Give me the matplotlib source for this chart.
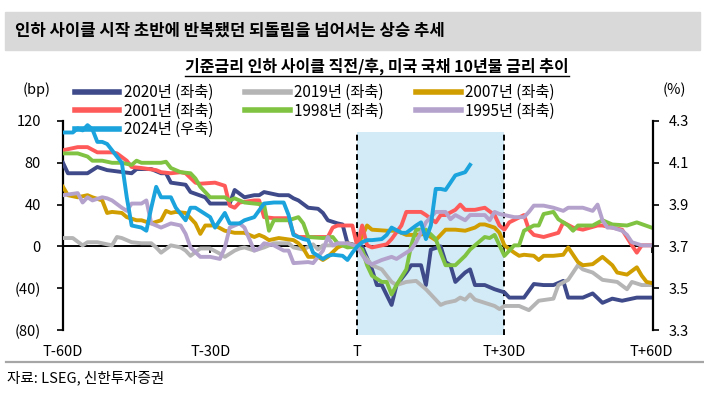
import matplotlib
matplotlib.use('Agg')
import matplotlib.pyplot as plt
from matplotlib.patches import Rectangle
from matplotlib.lines import Line2D
from matplotlib.ticker import FuncFormatter

plt.rcParams['font.family'] = ['Noto Sans CJK KR', 'DejaVu Sans']

# 기준금리 인하 시점(T) 대비 변화, bp (좌축)
days_2020 = [-60,-59,-55,-53,-51,-46,-45,-42,-40,-39,-38,-35,-34,-31,-30,-26,-25,-23,-21,-20,
             -19,-16,-14,-13,-12,-10,-8,-7,-6,-4,-3,-2,-1,0,1,3,4,5,7,8,10,11,13,14,15,17,18,19,20,
             22,23,24,26,28,30,31,34,36,38,40,42,43,46,48,50,52,54,57,60]
bp_2020 = [80,70,70,76,73,70,74,74,70,70,61,59,52,47,41,41,54,47,49,49,
           52,49,49,46,44,37,36,32,25,22,21,3,2,0,0,-22,-37,-37,-56,-37,-25,-18,-18,-37,-3,0,-15,-18,-34,
           -25,-22,-37,-37,-41,-44,-49,-49,-36,-37,-37,-33,-49,-49,-45,-54,-50,-52,-49,-49]

days_2019 = [-60,-58,-56,-55,-53,-52,-50,-49,-48,-46,-44,-42,-41,-40,-38,-36,-35,-34,-32,-30,
             -28,-27,-25,-24,-23,-21,-19,-17,-14,-13,-11,-9,-8,-7,-4,-1,0,1,3,5,7,8,10,12,14,16,17,
             18,20,21,22,23,24,26,28,29,30,33,35,37,40,41,43,45,46,48,50,53,55,56,58,60]
bp_2019 = [8,8,1,4,4,3,1,9,8,4,3,3,-1,-6,1,-1,-4,-9,-2,-2,
           -7,-10,-4,-2,-1,-4,-1,3,3,-1,-3,2,-3,1,1,1,0,-6,-18,-22,-34,-37,-34,-33,-41,-51,-56,
           -54,-52,-49,-51,-46,-51,-54,-57,-60,-57,-57,-61,-52,-50,-37,-32,-18,-22,-25,-32,-34,-41,-34,-37,-37]

days_2007 = [-60,-59,-57,-55,-54,-52,-51,-50,-48,-47,-45,-44,-42,-40,-39,-38,-37,-35,-33,-32,
             -31,-29,-27,-25,-23,-21,-20,-19,-18,-16,-13,-12,-11,-10,-8,-7,-6,-4,-2,0,2,3,6,8,10,
             12,14,15,16,17,18,20,22,24,25,26,28,29,30,32,33,34,36,37,38,40,42,43,45,46,48,50,52,53,
             55,57,58,59,60]
bp_2007 = [57,49,47,49,47,44,32,33,32,28,25,25,22,25,34,32,33,32,22,12,
           20,20,15,13,13,9,11,9,6,8,6,3,-2,-10,-10,-13,-10,-1,3,0,20,16,15,15,11,
           11,12,9,6,11,16,16,15,18,21,21,18,13,1,-6,-9,-8,-9,-13,-9,-9,-8,-1,-15,-18,-17,-10,-18,-25,
           -27,-20,-28,-34,-35]

days_2001 = [-60,-57,-55,-53,-50,-49,-47,-46,-44,-41,-40,-38,-36,-35,-33,-32,-29,-27,-26,-25,
             -24,-21,-20,-19,-17,-14,-13,-12,-8,-6,-5,-4,-1,0,1,2,3,5,6,7,9,10,13,14,16,17,18,20,21,
             22,24,26,28,29,30,31,34,35,36,38,41,42,44,46,49,50,54,56,57,58,60]
bp_2001 = [92,95,95,90,90,89,82,76,75,73,71,70,71,70,61,60,61,58,39,37,
           42,44,44,28,27,27,12,9,9,9,18,20,20,0,20,1,-1,1,2,7,20,33,33,30,23,30,30,35,40,
           35,35,37,30,20,16,23,30,16,11,9,13,23,18,16,20,20,16,1,-6,1,1]

days_1998 = [-60,-57,-55,-54,-52,-50,-48,-46,-45,-44,-40,-39,-38,-36,-34,-33,-32,-30,-27,-26,
             -25,-23,-19,-18,-17,-14,-12,-11,-10,-7,-5,-4,-2,0,1,2,3,5,6,7,8,10,11,12,14,16,17,18,20,
             22,23,24,26,27,28,29,30,32,33,34,36,37,38,40,41,43,44,45,48,50,52,55,57,60]
bp_1998 = [89,89,86,82,82,80,80,78,82,80,80,81,75,71,70,65,57,47,47,44,
           46,42,40,15,25,25,28,22,9,8,9,3,-1,0,-3,-18,-28,-34,-34,-46,-37,-22,1,16,16,7,-6,-18,-18,
           -9,-3,1,9,8,11,1,-9,1,1,15,20,20,31,33,26,20,15,20,20,25,21,20,23,18]

days_1995 = [-60,-57,-56,-55,-54,-52,-51,-50,-48,-47,-46,-44,-43,-42,-40,-38,-36,-35,-34,-32,
             -30,-28,-27,-26,-24,-23,-21,-20,-19,-17,-15,-14,-13,-10,-9,-7,-6,-5,-4,-2,0,1,2,3,5,7,
             8,10,11,12,14,16,18,19,20,22,23,25,26,27,28,29,30,32,34,35,36,38,40,42,43,46,48,49,50,
             51,52,54,55,56,58,60]
bp_1995 = [49,51,42,47,44,47,46,44,37,34,41,41,44,22,18,22,20,12,-1,-10,
           -10,-12,-1,18,22,18,-4,-2,3,1,-4,-4,-16,-15,-16,-4,9,1,3,3,0,-8,-15,-17,-13,-10,
           -12,-6,-3,4,23,33,33,26,30,25,30,30,30,25,33,31,30,28,28,33,39,39,37,34,37,37,34,40,25,
           18,18,15,11,4,1,1]

# 2024년 미국 국채 10년물 금리, % (우축)
days_2024 = [-60,-58,-57,-56,-55,-54,-53,-52,-51,-50,-48,-47,-46,-44,-43,-42,-41,-40,-38,-37,
             -35,-34,-33,-32,-30,-29,-27,-26,-24,-23,-21,-19,-17,-15,-14,-13,-11,-10,-9,-7,
             -6,-5,-3,-2,-1,0,1,2,3,5,6,7,9,10,12,13,14,15,16,17,18,19,20,22,23]
pct_2024 = [4.245,4.245,4.265,4.255,4.28,4.26,4.20,4.20,4.19,4.16,4.10,3.935,3.80,3.79,3.775,
            3.885,3.985,3.935,3.935,3.885,3.825,3.885,3.885,3.87,3.84,3.79,3.86,3.81,3.81,3.825,
            3.84,3.905,3.91,3.91,3.85,3.755,3.735,3.73,3.67,3.64,3.655,3.66,3.655,3.635,3.67,3.70,
            3.72,3.73,3.73,3.735,3.755,3.79,3.765,3.765,3.80,3.815,3.735,3.80,3.975,3.975,3.97,
            4.005,4.04,4.055,4.09]

x_ticks = [-60, -30, 0, 30, 60]
x_labels = ['T-60D', 'T-30D', 'T', 'T+30D', 'T+60D']
left_ticks = [-80, -40, 0, 40, 80, 120]
right_ticks = [3.3, 3.5, 3.7, 3.9, 4.1, 4.3]

W, H = 704, 395
fig = plt.figure(figsize=(W / 100, H / 100), dpi=100)

# 제목 바
fig.patches.append(Rectangle((5 / W, 1 - 50 / H), 695 / W, 38 / H, transform=fig.transFigure,
                             color='#D9D9D9', zorder=0))
fig.text(15 / W, 1 - 31 / H, '인하 사이클 시작 초반에 반복됐던 되돌림을 넘어서는 상승 추세',
         fontsize=12, fontweight='bold', va='center', ha='left')
sub = fig.text(377 / W, 1 - 66 / H, '기준금리 인하 사이클 직전/후, 미국 국채 10년물 금리 추이',
               fontsize=11.5, fontweight='bold', va='center', ha='center')

ax = fig.add_axes([63 / W, 1 - 330 / H, 590 / W, 209 / H])
ax.set_xlim(-60, 60.3)
ax.set_ylim(-80, 120)

# 음영 구간 (T ~ T+30D)
ax.add_patch(Rectangle((0, -85), 30, 194, color='#D3EBF6', zorder=0, clip_on=False, lw=0))
ax.vlines([0, 30], -85, 109, colors='black', linestyles=(0, (3, 2)), lw=1.4, zorder=1, clip_on=False)

lw = 2.8
series = [
    (days_2020, bp_2020, '#3E4A89', '2020년 (좌축)'),
    (days_2019, bp_2019, '#B5B5B5', '2019년 (좌축)'),
    (days_2007, bp_2007, '#D09E00', '2007년 (좌축)'),
    (days_2001, bp_2001, '#FF5A5A', '2001년 (좌축)'),
    (days_1998, bp_1998, '#80C342', '1998년 (좌축)'),
    (days_1995, bp_1995, '#B4A2CC', '1995년 (좌축)'),
]
handles = {}
for d, v, c, lab in series:
    ln, = ax.plot(d, v, color=c, lw=lw, label=lab, zorder=3, solid_joinstyle='round')
    handles[lab] = ln

ax.spines['top'].set_visible(False)
ax.spines['right'].set_visible(False)
ax.spines['left'].set_linewidth(1.6)
ax.spines['bottom'].set_position(('data', 0))
ax.spines['bottom'].set_linewidth(1.4)
ax.spines['bottom'].set_zorder(2)
ax.set_xticks(x_ticks)
ax.set_xticklabels(x_labels)
ax.tick_params(axis='x', direction='out', length=5, width=1.2, pad=66, labelsize=10.5)
ax.set_yticks(left_ticks)
ax.yaxis.set_major_formatter(FuncFormatter(lambda v, p: f'({abs(int(v))})' if v < 0 else f'{int(v)}'))
ax.tick_params(axis='y', direction='out', length=4, width=1.2, pad=12, labelsize=10.5)

ax2 = ax.twinx()
ax2.set_ylim(3.3, 4.3)
ln24, = ax2.plot(days_2024, pct_2024, color='#1AA3DC', lw=lw, label='2024년 (우축)', zorder=4,
                 solid_joinstyle='round')
handles['2024년 (우축)'] = ln24
for s in ['top', 'left', 'bottom']:
    ax2.spines[s].set_visible(False)
ax2.spines['right'].set_linewidth(1.6)
ax2.set_yticks(right_ticks)
ax2.yaxis.set_major_formatter(FuncFormatter(lambda v, p: f'{v:.1f}'))
ax2.tick_params(axis='y', direction='out', length=4, width=1.2, pad=7, labelsize=10.5)

fig.text(23 / W, 1 - 90 / H, '(bp)', fontsize=10.5, va='center', ha='left')
fig.text(663 / W, 1 - 90 / H, '(%)', fontsize=10.5, va='center', ha='left')

order = ['2020년 (좌축)', '2001년 (좌축)', '2024년 (우축)', '2019년 (좌축)', '1998년 (좌축)',
         '2007년 (좌축)', '1995년 (좌축)']
leg = fig.legend([handles[k] for k in order], order, ncol=3, loc='upper left',
                 bbox_to_anchor=(75 / W, 1 - 84 / H), frameon=False, fontsize=11,
                 handlelength=2.9, handletextpad=0.3, columnspacing=2.1, labelspacing=0.1,
                 borderpad=0, borderaxespad=0)
for h in leg.legend_handles:
    h.set_linewidth(4)

# 출처 구분선
fig.add_artist(Line2D([6 / W, 1], [1 - 362 / H, 1 - 362 / H], transform=fig.transFigure,
                      color='#A6A6A6', lw=1.6))
fig.text(7 / W, 1 - 378 / H, '자료: LSEG, 신한투자증권', fontsize=10.5, va='center', ha='left')

# 부제 밑줄
fig.canvas.draw()
bb = sub.get_window_extent(fig.canvas.get_renderer())
fig.add_artist(Line2D([bb.x0 / W, bb.x1 / W], [(bb.y0 - 1) / H, (bb.y0 - 1) / H],
                      transform=fig.transFigure, color='black', lw=1.0))

fig.savefig('out.png', dpi=100)
